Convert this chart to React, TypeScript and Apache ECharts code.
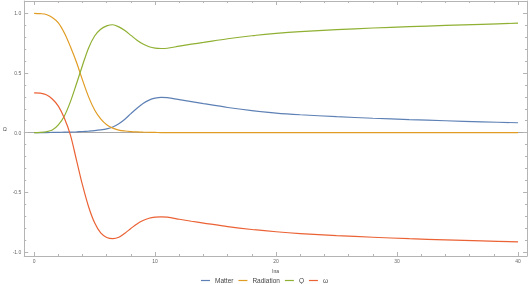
import React, { useEffect, useRef } from "react";
import * as echarts from "echarts";

const lna = [0, 0.5, 1, 1.5, 2, 2.5, 3, 3.5, 4, 4.5, 5, 5.5, 6, 6.5, 7, 7.5, 8, 8.5, 9, 9.5, 10, 10.5, 11, 12, 13, 14, 16, 18, 20, 22, 25, 28, 31, 34, 37, 40];
const matter = [0, 0.001, 0.001, 0.002, 0.003, 0.004, 0.005, 0.007, 0.01, 0.013, 0.017, 0.023, 0.032, 0.048, 0.075, 0.113, 0.16, 0.205, 0.245, 0.273, 0.289, 0.295, 0.293, 0.277, 0.26, 0.243, 0.211, 0.185, 0.164, 0.15, 0.134, 0.121, 0.11, 0.1, 0.091, 0.083];
const radiation = [1.0, 0.997, 0.99, 0.965, 0.92, 0.835, 0.72, 0.59, 0.44, 0.3, 0.19, 0.115, 0.066, 0.038, 0.022, 0.014, 0.009, 0.006, 0.004, 0.003, 0.002, 0.001, 0.001, 0, 0, 0, 0, 0, 0, 0, 0, 0, 0, 0, 0, 0];
const q = [0, 0.002, 0.008, 0.022, 0.065, 0.14, 0.26, 0.41, 0.565, 0.71, 0.81, 0.866, 0.895, 0.904, 0.886, 0.855, 0.815, 0.775, 0.743, 0.72, 0.708, 0.705, 0.707, 0.725, 0.741, 0.756, 0.787, 0.812, 0.832, 0.847, 0.863, 0.877, 0.888, 0.898, 0.908, 0.917];
const omega = [0.333, 0.331, 0.318, 0.282, 0.222, 0.12, -0.02, -0.23, -0.44, -0.62, -0.755, -0.84, -0.878, -0.888, -0.876, -0.842, -0.802, -0.764, -0.736, -0.717, -0.708, -0.705, -0.708, -0.725, -0.742, -0.757, -0.787, -0.811, -0.83, -0.845, -0.862, -0.876, -0.888, -0.898, -0.907, -0.915];

const seriesNames = ["Matter", "Radiation", "Q", "\u03c9"];
const seriesColors = ["#5e81b5", "#e19c24", "#8fb032", "#eb6235"];

const xMajor = [0, 10, 20, 30, 40];
const xMinor = [2, 4, 6, 8, 12, 14, 16, 18, 22, 24, 26, 28, 32, 34, 36, 38];
const yMajor = [-1, -0.5, 0, 0.5, 1];
const yMinor = [-0.9, -0.8, -0.7, -0.6, -0.4, -0.3, -0.2, -0.1, 0.1, 0.2, 0.3, 0.4, 0.6, 0.7, 0.8, 0.9];

const X_MIN = -0.818;
const X_MAX = 40.74;
const Y_MIN = -1.033;
const Y_MAX = 1.103;

const FRAME = "#b4b4b4";
const LABEL = "#666666";
const FONT = "Liberation Sans, Arial, sans-serif";

export default function App() {
  const ref = useRef<HTMLDivElement>(null);
  useEffect(() => {
    if (!ref.current) return;
    const chart = echarts.init(ref.current, null, { renderer: "svg" });
    const data = [matter, radiation, q, omega];

    const xAx = (pos: string, ticks: number[], len: number, showLine: boolean, labels: boolean, extra: any = {}) => ({
      type: "value",
      position: pos,
      min: X_MIN,
      max: X_MAX,
      splitLine: { show: false },
      axisLine: { show: showLine, onZero: false, lineStyle: { color: FRAME, width: 1 } },
      axisTick: { show: true, inside: true, length: len, customValues: ticks, lineStyle: { color: FRAME, width: 1 } },
      axisLabel: labels
        ? { show: true, customValues: ticks, fontSize: 5, color: LABEL, margin: 2, fontFamily: FONT }
        : { show: false },
      ...extra,
    });
    const yAx = (pos: string, ticks: number[], len: number, showLine: boolean, labels: boolean, extra: any = {}) => ({
      type: "value",
      position: pos,
      min: Y_MIN,
      max: Y_MAX,
      splitLine: { show: false },
      axisLine: { show: showLine, onZero: false, lineStyle: { color: FRAME, width: 1 } },
      axisTick: { show: true, inside: true, length: len, customValues: ticks, lineStyle: { color: FRAME, width: 1 } },
      axisLabel: labels
        ? {
            show: true,
            customValues: ticks,
            fontSize: 5,
            color: LABEL,
            margin: 3,
            fontFamily: FONT,
            formatter: (v: number) => v.toFixed(1),
          }
        : { show: false },
      ...extra,
    });

    chart.setOption({
      animation: false,
      grid: { left: 19, right: 2, top: 1, bottom: 28, containLabel: false },
      xAxis: [
        xAx("bottom", xMajor, 4, true, true, {
          name: "lna",
          nameLocation: "middle",
          nameGap: 12,
          nameTextStyle: { fontSize: 5, color: "#444", fontFamily: FONT },
        }),
        xAx("bottom", xMinor, 2, false, false),
        xAx("top", xMajor, 4, true, false),
        xAx("top", xMinor, 2, false, false),
        {
          type: "value",
          position: "bottom",
          min: X_MIN,
          max: X_MAX,
          splitLine: { show: false },
          axisLine: { show: true, onZero: true, onZeroAxisIndex: 0, lineStyle: { color: "#a8a8a8", width: 1 } },
          axisTick: { show: false },
          axisLabel: { show: false },
        },
      ],
      yAxis: [
        yAx("left", yMajor, 4, true, true, {
          name: "\u03a9",
          nameLocation: "middle",
          nameRotate: 0,
          nameGap: 15,
          nameTextStyle: { fontSize: 5, color: "#444", fontFamily: FONT, padding: [0, 0, 12, 0] },
        }),
        yAx("left", yMinor, 2, false, false),
        yAx("right", yMajor, 4, true, false),
        yAx("right", yMinor, 2, false, false),
      ],
      legend: {
        data: seriesNames,
        left: "center",
        top: 277,
        padding: 0,
        itemGap: 5,
        itemWidth: 9,
        itemHeight: 1.2,
        icon: "rect",
        textStyle: { fontSize: 6.5, color: "#444", fontFamily: FONT },
      },
      series: seriesNames.map((name, i) => ({
        name,
        type: "line",
        xAxisIndex: 0,
        yAxisIndex: 0,
        data: lna.map((x, k) => [x, data[i][k]]),
        showSymbol: false,
        symbol: "none",
        smooth: 0.3,
        lineStyle: { color: seriesColors[i], width: 1.2 },
        itemStyle: { color: seriesColors[i] },
        z: 3 + i,
      })),
    });
    return () => chart.dispose();
  }, []);
  return <div ref={ref} style={{ position: "fixed", left: 0, top: 0, width: 529, height: 284 }} />;
}
